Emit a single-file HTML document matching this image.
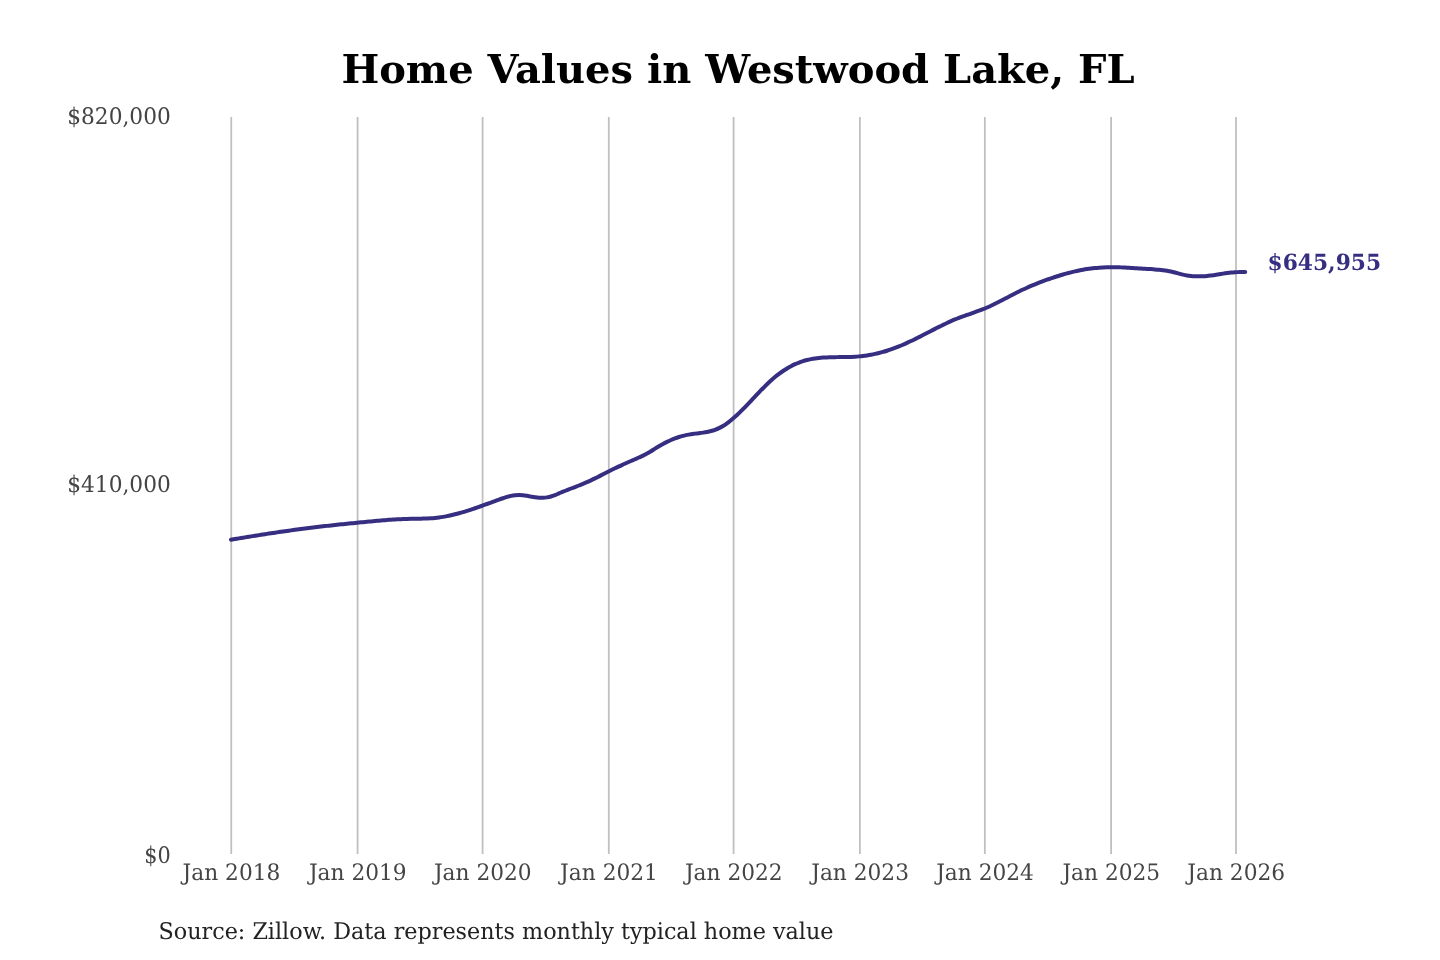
<!DOCTYPE html>
<html><head><meta charset="utf-8"><title>Home Values in Westwood Lake, FL</title>
<style>
html,body{margin:0;padding:0;background:#fff;}
body{width:1440px;height:960px;overflow:hidden;}
svg{display:block;will-change:transform;}
text{font-family:"DejaVu Serif","Liberation Serif",serif;text-rendering:geometricPrecision;}
</style></head><body>
<svg width="1440" height="960" viewBox="0 0 1440 960">
<rect width="1440" height="960" fill="#fff"/>
<text x="738.0" y="83.4" text-anchor="middle" font-size="40" font-weight="bold" fill="#000" style="text-rendering:auto">Home Values in Westwood Lake, FL</text>
<g stroke="#c0c0c0" stroke-width="1.8">
<line x1="231.25" y1="117" x2="231.25" y2="854"/>
<line x1="357.60" y1="117" x2="357.60" y2="854"/>
<line x1="482.60" y1="117" x2="482.60" y2="854"/>
<line x1="608.80" y1="117" x2="608.80" y2="854"/>
<line x1="733.60" y1="117" x2="733.60" y2="854"/>
<line x1="859.90" y1="117" x2="859.90" y2="854"/>
<line x1="984.85" y1="117" x2="984.85" y2="854"/>
<line x1="1111.10" y1="117" x2="1111.10" y2="854"/>
<line x1="1236.00" y1="117" x2="1236.00" y2="854"/>
</g>
<g font-size="22.9" fill="#444" text-anchor="end">
<text x="170.8" y="124.25" textLength="103.6" lengthAdjust="spacingAndGlyphs">$820,000</text>
<text x="170.8" y="492.0" textLength="103.6" lengthAdjust="spacingAndGlyphs">$410,000</text>
<text x="170.8" y="863.1" textLength="26.5" lengthAdjust="spacingAndGlyphs">$0</text>
</g>
<g font-size="22.7" fill="#444" text-anchor="middle">
<text x="231.45" y="879.6" textLength="97.8" lengthAdjust="spacingAndGlyphs">Jan 2018</text>
<text x="357.80" y="879.6" textLength="97.8" lengthAdjust="spacingAndGlyphs">Jan 2019</text>
<text x="482.80" y="879.6" textLength="97.8" lengthAdjust="spacingAndGlyphs">Jan 2020</text>
<text x="609.00" y="879.6" textLength="97.8" lengthAdjust="spacingAndGlyphs">Jan 2021</text>
<text x="733.80" y="879.6" textLength="97.8" lengthAdjust="spacingAndGlyphs">Jan 2022</text>
<text x="860.10" y="879.6" textLength="97.8" lengthAdjust="spacingAndGlyphs">Jan 2023</text>
<text x="985.05" y="879.6" textLength="97.8" lengthAdjust="spacingAndGlyphs">Jan 2024</text>
<text x="1111.30" y="879.6" textLength="97.8" lengthAdjust="spacingAndGlyphs">Jan 2025</text>
<text x="1236.20" y="879.6" textLength="97.8" lengthAdjust="spacingAndGlyphs">Jan 2026</text>
</g>
<path d="M231.00,539.74 C231.67,539.63 233.67,539.29 235.00,539.06 C236.33,538.83 237.67,538.60 239.00,538.38 C240.33,538.16 241.67,537.94 243.00,537.72 C244.33,537.50 245.67,537.28 247.00,537.06 C248.33,536.84 249.67,536.62 251.00,536.40 C252.33,536.18 253.67,535.97 255.00,535.76 C256.33,535.55 257.67,535.33 259.00,535.12 C260.33,534.91 261.67,534.70 263.00,534.49 C264.33,534.28 265.67,534.08 267.00,533.87 C268.33,533.66 269.67,533.46 271.00,533.26 C272.33,533.06 273.67,532.86 275.00,532.66 C276.33,532.46 277.67,532.27 279.00,532.07 C280.33,531.88 281.67,531.68 283.00,531.49 C284.33,531.30 285.67,531.11 287.00,530.92 C288.33,530.73 289.67,530.54 291.00,530.36 C292.33,530.18 293.67,530.00 295.00,529.82 C296.33,529.64 297.67,529.47 299.00,529.29 C300.33,529.11 301.67,528.93 303.00,528.76 C304.33,528.59 305.67,528.43 307.00,528.26 C308.33,528.09 309.67,527.92 311.00,527.76 C312.33,527.60 313.67,527.43 315.00,527.27 C316.33,527.11 317.67,526.95 319.00,526.80 C320.33,526.64 321.67,526.49 323.00,526.34 C324.33,526.19 325.67,526.03 327.00,525.88 C328.33,525.73 329.67,525.59 331.00,525.44 C332.33,525.29 333.67,525.14 335.00,525.00 C336.33,524.86 337.67,524.71 339.00,524.57 C340.33,524.43 341.67,524.29 343.00,524.15 C344.33,524.01 345.67,523.88 347.00,523.74 C348.33,523.61 349.67,523.47 351.00,523.34 C352.33,523.21 353.67,523.07 355.00,522.94 C356.33,522.81 357.67,522.67 359.00,522.54 C360.33,522.41 361.67,522.29 363.00,522.16 C364.33,522.03 365.67,521.90 367.00,521.77 C368.33,521.64 369.67,521.51 371.00,521.39 C372.33,521.26 373.67,521.14 375.00,521.02 C376.33,520.90 377.67,520.78 379.00,520.66 C380.33,520.54 381.67,520.43 383.00,520.32 C384.33,520.21 385.67,520.10 387.00,520.00 C388.33,519.90 389.67,519.80 391.00,519.71 C392.33,519.62 393.67,519.53 395.00,519.45 C396.33,519.37 397.67,519.30 399.00,519.23 C400.33,519.16 401.67,519.10 403.00,519.05 C404.33,519.00 405.67,518.95 407.00,518.92 C408.33,518.88 409.67,518.86 411.00,518.84 C412.33,518.82 413.67,518.80 415.00,518.78 C416.33,518.76 417.67,518.74 419.00,518.71 C420.33,518.68 421.67,518.66 423.00,518.62 C424.33,518.58 425.67,518.53 427.00,518.47 C428.33,518.41 429.67,518.34 431.00,518.25 C432.33,518.16 433.67,518.05 435.00,517.92 C436.33,517.79 437.67,517.64 439.00,517.46 C440.33,517.28 441.67,517.08 443.00,516.86 C444.33,516.64 445.67,516.38 447.00,516.12 C448.33,515.86 449.67,515.57 451.00,515.27 C452.33,514.97 453.67,514.65 455.00,514.31 C456.33,513.97 457.67,513.62 459.00,513.25 C460.33,512.88 461.67,512.50 463.00,512.10 C464.33,511.71 465.67,511.30 467.00,510.88 C468.33,510.46 469.67,510.03 471.00,509.59 C472.33,509.15 473.67,508.70 475.00,508.25 C476.33,507.80 477.67,507.33 479.00,506.86 C480.33,506.39 481.67,505.92 483.00,505.44 C484.33,504.96 485.67,504.48 487.00,504.00 C488.33,503.52 489.67,503.04 491.00,502.55 C492.33,502.06 493.67,501.57 495.00,501.09 C496.33,500.61 497.67,500.12 499.00,499.65 C500.33,499.17 501.67,498.69 503.00,498.24 C504.33,497.79 505.67,497.33 507.00,496.94 C508.33,496.55 509.67,496.18 511.00,495.88 C512.33,495.58 513.67,495.32 515.00,495.16 C516.33,495.00 517.67,494.92 519.00,494.92 C520.33,494.93 521.67,495.04 523.00,495.19 C524.33,495.34 525.67,495.59 527.00,495.83 C528.33,496.07 529.67,496.36 531.00,496.61 C532.33,496.86 533.67,497.13 535.00,497.32 C536.33,497.51 537.67,497.69 539.00,497.77 C540.33,497.85 541.67,497.87 543.00,497.80 C544.33,497.74 545.67,497.60 547.00,497.38 C548.33,497.16 549.67,496.86 551.00,496.47 C552.33,496.09 553.67,495.59 555.00,495.07 C556.33,494.55 557.67,493.92 559.00,493.35 C560.33,492.78 561.67,492.18 563.00,491.63 C564.33,491.08 565.67,490.55 567.00,490.03 C568.33,489.51 569.67,489.00 571.00,488.50 C572.33,488.00 573.67,487.51 575.00,487.01 C576.33,486.51 577.67,486.01 579.00,485.49 C580.33,484.97 581.67,484.46 583.00,483.91 C584.33,483.36 585.67,482.79 587.00,482.20 C588.33,481.61 589.67,480.98 591.00,480.35 C592.33,479.72 593.67,479.06 595.00,478.40 C596.33,477.74 597.67,477.05 599.00,476.37 C600.33,475.69 601.67,475.00 603.00,474.31 C604.33,473.62 605.67,472.93 607.00,472.25 C608.33,471.57 609.67,470.90 611.00,470.24 C612.33,469.58 613.67,468.92 615.00,468.28 C616.33,467.63 617.67,467.00 619.00,466.37 C620.33,465.74 621.67,465.13 623.00,464.52 C624.33,463.91 625.67,463.31 627.00,462.72 C628.33,462.13 629.67,461.54 631.00,460.96 C632.33,460.38 633.67,459.81 635.00,459.24 C636.33,458.67 637.67,458.11 639.00,457.51 C640.33,456.91 641.67,456.31 643.00,455.66 C644.33,455.01 645.67,454.34 647.00,453.60 C648.33,452.86 649.67,452.06 651.00,451.24 C652.33,450.42 653.67,449.52 655.00,448.68 C656.33,447.84 657.67,447.00 659.00,446.21 C660.33,445.42 661.67,444.65 663.00,443.93 C664.33,443.21 665.67,442.52 667.00,441.87 C668.33,441.22 669.67,440.60 671.00,440.02 C672.33,439.44 673.67,438.89 675.00,438.39 C676.33,437.88 677.67,437.42 679.00,436.99 C680.33,436.56 681.67,436.17 683.00,435.82 C684.33,435.47 685.67,435.15 687.00,434.88 C688.33,434.61 689.67,434.39 691.00,434.18 C692.33,433.97 693.67,433.81 695.00,433.64 C696.33,433.47 697.67,433.32 699.00,433.15 C700.33,432.98 701.67,432.82 703.00,432.62 C704.33,432.42 705.67,432.21 707.00,431.95 C708.33,431.69 709.67,431.41 711.00,431.05 C712.33,430.69 713.67,430.29 715.00,429.80 C716.33,429.31 717.67,428.76 719.00,428.12 C720.33,427.48 721.67,426.75 723.00,425.94 C724.33,425.13 725.67,424.23 727.00,423.28 C728.33,422.33 729.67,421.30 731.00,420.22 C732.33,419.14 733.67,418.00 735.00,416.81 C736.33,415.62 737.67,414.38 739.00,413.10 C740.33,411.83 741.67,410.50 743.00,409.16 C744.33,407.82 745.67,406.44 747.00,405.05 C748.33,403.66 749.67,402.25 751.00,400.84 C752.33,399.43 753.67,398.00 755.00,396.59 C756.33,395.18 757.67,393.76 759.00,392.37 C760.33,390.98 761.67,389.60 763.00,388.25 C764.33,386.90 765.67,385.56 767.00,384.28 C768.33,383.00 769.67,381.74 771.00,380.54 C772.33,379.34 773.67,378.19 775.00,377.08 C776.33,375.97 777.67,374.91 779.00,373.90 C780.33,372.89 781.67,371.93 783.00,371.02 C784.33,370.11 785.67,369.24 787.00,368.43 C788.33,367.62 789.67,366.85 791.00,366.14 C792.33,365.43 793.67,364.78 795.00,364.17 C796.33,363.56 797.67,363.02 799.00,362.51 C800.33,362.00 801.67,361.55 803.00,361.13 C804.33,360.71 805.67,360.35 807.00,360.02 C808.33,359.69 809.67,359.40 811.00,359.14 C812.33,358.88 813.67,358.66 815.00,358.46 C816.33,358.26 817.67,358.10 819.00,357.96 C820.33,357.82 821.67,357.71 823.00,357.61 C824.33,357.51 825.67,357.44 827.00,357.38 C828.33,357.32 829.67,357.27 831.00,357.23 C832.33,357.19 833.67,357.17 835.00,357.15 C836.33,357.13 837.67,357.12 839.00,357.10 C840.33,357.09 841.67,357.08 843.00,357.06 C844.33,357.04 845.67,357.03 847.00,357.00 C848.33,356.97 849.67,356.93 851.00,356.88 C852.33,356.83 853.67,356.76 855.00,356.68 C856.33,356.60 857.67,356.50 859.00,356.38 C860.33,356.26 861.67,356.11 863.00,355.95 C864.33,355.79 865.67,355.60 867.00,355.40 C868.33,355.19 869.67,354.97 871.00,354.72 C872.33,354.47 873.67,354.20 875.00,353.91 C876.33,353.62 877.67,353.30 879.00,352.97 C880.33,352.64 881.67,352.29 883.00,351.91 C884.33,351.54 885.67,351.14 887.00,350.72 C888.33,350.30 889.67,349.87 891.00,349.41 C892.33,348.95 893.67,348.46 895.00,347.96 C896.33,347.46 897.67,346.93 899.00,346.39 C900.33,345.85 901.67,345.29 903.00,344.71 C904.33,344.13 905.67,343.53 907.00,342.92 C908.33,342.31 909.67,341.69 911.00,341.05 C912.33,340.42 913.67,339.76 915.00,339.11 C916.33,338.46 917.67,337.79 919.00,337.12 C920.33,336.45 921.67,335.76 923.00,335.08 C924.33,334.39 925.67,333.70 927.00,333.01 C928.33,332.32 929.67,331.63 931.00,330.94 C932.33,330.25 933.67,329.56 935.00,328.88 C936.33,328.20 937.67,327.52 939.00,326.85 C940.33,326.18 941.67,325.53 943.00,324.88 C944.33,324.23 945.67,323.59 947.00,322.97 C948.33,322.35 949.67,321.75 951.00,321.16 C952.33,320.58 953.67,320.01 955.00,319.46 C956.33,318.91 957.67,318.39 959.00,317.88 C960.33,317.37 961.67,316.88 963.00,316.40 C964.33,315.92 965.67,315.45 967.00,314.98 C968.33,314.51 969.67,314.05 971.00,313.58 C972.33,313.11 973.67,312.65 975.00,312.17 C976.33,311.69 977.67,311.21 979.00,310.71 C980.33,310.21 981.67,309.70 983.00,309.17 C984.33,308.64 985.67,308.08 987.00,307.51 C988.33,306.94 989.67,306.34 991.00,305.72 C992.33,305.10 993.67,304.46 995.00,303.81 C996.33,303.16 997.67,302.49 999.00,301.81 C1000.33,301.13 1001.67,300.44 1003.00,299.75 C1004.33,299.06 1005.67,298.37 1007.00,297.67 C1008.33,296.97 1009.67,296.26 1011.00,295.57 C1012.33,294.88 1013.67,294.19 1015.00,293.51 C1016.33,292.83 1017.67,292.15 1019.00,291.49 C1020.33,290.83 1021.67,290.19 1023.00,289.56 C1024.33,288.93 1025.67,288.31 1027.00,287.71 C1028.33,287.11 1029.67,286.53 1031.00,285.96 C1032.33,285.39 1033.67,284.83 1035.00,284.29 C1036.33,283.75 1037.67,283.22 1039.00,282.70 C1040.33,282.18 1041.67,281.68 1043.00,281.18 C1044.33,280.68 1045.67,280.19 1047.00,279.72 C1048.33,279.25 1049.67,278.79 1051.00,278.34 C1052.33,277.89 1053.67,277.44 1055.00,277.01 C1056.33,276.58 1057.67,276.15 1059.00,275.74 C1060.33,275.33 1061.67,274.92 1063.00,274.53 C1064.33,274.14 1065.67,273.76 1067.00,273.40 C1068.33,273.04 1069.67,272.69 1071.00,272.35 C1072.33,272.01 1073.67,271.69 1075.00,271.38 C1076.33,271.07 1077.67,270.78 1079.00,270.51 C1080.33,270.24 1081.67,269.97 1083.00,269.73 C1084.33,269.49 1085.67,269.26 1087.00,269.05 C1088.33,268.84 1089.67,268.65 1091.00,268.48 C1092.33,268.31 1093.67,268.16 1095.00,268.02 C1096.33,267.88 1097.67,267.76 1099.00,267.66 C1100.33,267.56 1101.67,267.47 1103.00,267.40 C1104.33,267.33 1105.67,267.28 1107.00,267.24 C1108.33,267.20 1109.67,267.18 1111.00,267.17 C1112.33,267.16 1113.67,267.17 1115.00,267.19 C1116.33,267.21 1117.67,267.24 1119.00,267.29 C1120.33,267.34 1121.67,267.40 1123.00,267.47 C1124.33,267.54 1125.67,267.62 1127.00,267.70 C1128.33,267.78 1129.67,267.87 1131.00,267.96 C1132.33,268.05 1133.67,268.14 1135.00,268.22 C1136.33,268.30 1137.67,268.38 1139.00,268.46 C1140.33,268.54 1141.67,268.61 1143.00,268.68 C1144.33,268.75 1145.67,268.82 1147.00,268.89 C1148.33,268.96 1149.67,269.04 1151.00,269.12 C1152.33,269.20 1153.67,269.29 1155.00,269.40 C1156.33,269.50 1157.67,269.62 1159.00,269.75 C1160.33,269.88 1161.67,270.03 1163.00,270.21 C1164.33,270.39 1165.67,270.58 1167.00,270.81 C1168.33,271.04 1169.67,271.28 1171.00,271.57 C1172.33,271.86 1173.67,272.20 1175.00,272.54 C1176.33,272.88 1177.67,273.28 1179.00,273.63 C1180.33,273.98 1181.67,274.35 1183.00,274.66 C1184.33,274.97 1185.67,275.25 1187.00,275.48 C1188.33,275.71 1189.67,275.87 1191.00,276.01 C1192.33,276.15 1193.67,276.24 1195.00,276.30 C1196.33,276.36 1197.67,276.37 1199.00,276.35 C1200.33,276.34 1201.67,276.28 1203.00,276.21 C1204.33,276.14 1205.67,276.04 1207.00,275.91 C1208.33,275.79 1209.67,275.62 1211.00,275.46 C1212.33,275.29 1213.67,275.12 1215.00,274.92 C1216.33,274.73 1217.67,274.50 1219.00,274.29 C1220.33,274.08 1221.67,273.86 1223.00,273.65 C1224.33,273.44 1225.67,273.23 1227.00,273.05 C1228.33,272.87 1229.67,272.69 1231.00,272.55 C1232.33,272.41 1233.67,272.30 1235.00,272.23 C1236.33,272.16 1237.67,272.14 1239.00,272.11 C1240.33,272.08 1241.97,272.07 1243.00,272.05 C1244.03,272.03 1244.83,271.99 1245.20,271.98" fill="none" stroke="#362e80" stroke-width="4.0" stroke-linecap="round" stroke-linejoin="round"/>
<text x="1267.5" y="269.65" font-size="22.2" font-weight="bold" fill="#362e80" textLength="113.6" lengthAdjust="spacingAndGlyphs">$645,955</text>
<text x="158.5" y="938.9" font-size="23.0" fill="#222" textLength="675" lengthAdjust="spacingAndGlyphs">Source: Zillow. Data represents monthly typical home value</text>
</svg>
</body></html>
